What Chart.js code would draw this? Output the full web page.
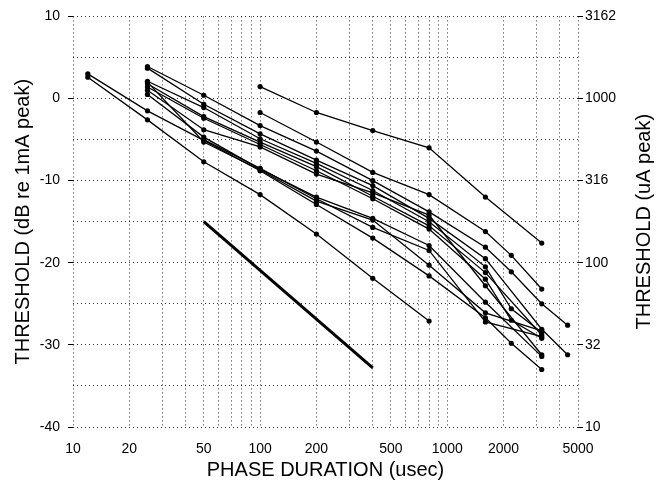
<!DOCTYPE html>
<html>
<head>
<meta charset="utf-8">
<script src="https://cdn.jsdelivr.net/npm/chart.js@4"></script>
<style>
  body { margin: 0; background: #fff; }
  canvas { display: block; }
</style>
</head>
<body>
<canvas id="myChart" width="656" height="485"></canvas>
<script>
// phase durations (usec) used for every subject
const durations = [12, 25, 50, 100, 200, 400, 800, 1600, 2200, 3200, 4400];
const _ = null;

// thresholds in dB re 1mA peak, one array per subject
const subjA = [_, _, _, 1.45, -1.7, -3.9, -6.0, -12.0, _, -17.6, _];
const subjB = [_, _, _, -1.7, -5.3, -9.0, -11.7, -16.2, -19.1, -23.2, _];
const subjC = [_, 3.9, 0.4, -3.3, -6.4, -10.0, -13.8, -18.1, -21.1, -25.0, -27.6];
const subjD = [_, 3.7, -0.7, -4.3, -7.5, -10.6, -14.6, -19.5, _, -28.1, -31.2];
const subjE = [_, 2.1, -1.1, -4.9, -7.9, -11.2, -15.0, -20.5, -25.6, -28.5, _];
const subjF = [_, 1.8, -2.2, -5.3, -8.3, -11.9, -15.5, -21.2, _, -28.8, _];
const subjG = [_, 1.4, -2.4, -5.6, -8.8, -12.2, -15.9, -22.0, -27.0, -29.2, _];
const subjH = [_, 1.0, -3.8, -5.9, -9.2, -11.5, -14.2, -22.8, _, -31.2, _];
const subjI = [_, 0.5, -4.7, -8.6, -12.0, -14.6, -17.9, -24.8, _, -31.4, _];
const subjJ = [3.0, -1.5, -5.1, -8.8, -12.9, -17.0, -21.6, -26.7, -29.8, -33.0, _];
const subjK = [_, 2.0, -5.3, -8.7, -12.5, -14.8, -20.3, -26.1, _, -28.3, _];
const subjL = [2.6, -2.6, -7.7, -11.7, -16.5, -21.9, -27.1, _, _, _, _];
const subjM = [_, _, -5.0, -8.5, -12.2, -15.7, -18.5, -27.2, _, -29.0, _];
const subjects = [subjA, subjB, subjC, subjD, subjE, subjF, subjG, subjH, subjI, subjJ, subjK, subjL, subjM];

// reference slope line (no markers)
const slopeDur = [50, 400];
const slopeDb = [-15, -32.8];

// axis ticks
const xGrid = [10, 20, 30, 40, 50, 60, 70, 80, 90, 100, 200, 300, 400, 500, 600, 700, 800, 900,
               1000, 2000, 3000, 4000, 5000];
const xLabels = [10, 20, 50, 100, 200, 500, 1000, 2000, 5000];
const rightDb = [-40, -30, -20, -10, 0, 10];
const rightLabels = ['10', '32', '100', '316', '1000', '3162'];

const fontFam = "'Liberation Sans', Arial, Helvetica, sans-serif";
const gridCol = 'rgba(0,0,0,0.8)';

const toPoints = (xs, ys) => xs.map((x, i) => ({ x: x, y: ys[i] })).filter(p => p.y !== null);

const datasets = subjects.map(s => ({
  data: toPoints(durations, s),
  borderColor: '#000',
  backgroundColor: '#000',
  borderWidth: 1.3,
  pointRadius: 2.6,
  pointBorderWidth: 0,
  showLine: true,
  yAxisID: 'y'
}));
datasets.push({
  data: toPoints(slopeDur, slopeDb),
  borderColor: '#000',
  borderWidth: 3,
  pointRadius: 0,
  showLine: true,
  yAxisID: 'y'
});

// right-hand title reads bottom to top like the left one
const rightTitle = {
  id: 'rightTitle',
  afterDraw(chart) {
    const { ctx, chartArea } = chart;
    ctx.save();
    ctx.translate(chart.width - 12, (chartArea.top + chartArea.bottom) / 2);
    ctx.rotate(-Math.PI / 2);
    ctx.font = '20px ' + fontFam;
    ctx.fillStyle = '#000';
    ctx.textAlign = 'center';
    ctx.textBaseline = 'middle';
    ctx.fillText('THRESHOLD (uA peak)', 0, 0);
    ctx.restore();
  }
};

const ctx = document.getElementById('myChart');
new Chart(ctx, {
  type: 'scatter',
  data: { datasets: datasets },
  plugins: [rightTitle],
  options: {
    responsive: false,
    animation: false,
    layout: { padding: { top: 8, left: 0, right: 0, bottom: 0 } },
    plugins: { legend: { display: false }, tooltip: { enabled: false } },
    scales: {
      x: {
        type: 'logarithmic',
        min: 10,
        max: 5000,
        afterBuildTicks: (scale) => { scale.ticks = xGrid.map(v => ({ value: v })); },
        afterFit: (scale) => { scale.height = 58; },
        ticks: {
          autoSkip: false,
          maxRotation: 0,
          padding: 14,
          color: '#000',
          font: { family: fontFam, size: 14 },
          callback: (v) => xLabels.includes(v) ? String(v) : ''
        },
        grid: { color: gridCol, lineWidth: 1, drawTicks: false },
        border: { display: false, dash: [1, 3] },
        title: {
          display: true,
          text: 'PHASE DURATION (usec)',
          color: '#000',
          font: { family: fontFam, size: 20 },
          padding: { top: 0, bottom: 3 }
        }
      },
      y: {
        position: 'left',
        min: -40,
        max: 10,
        afterFit: (scale) => { scale.width = 73; },
        ticks: {
          stepSize: 5,
          padding: 8,
          color: '#000',
          font: { family: fontFam, size: 14 },
          callback: (v) => v % 10 === 0 ? String(v) : ''
        },
        grid: {
          color: gridCol,
          lineWidth: 1,
          tickLength: 5,
          tickBorderDash: [],
          tickColor: (c) => c.tick && c.tick.value % 10 === 0 ? '#000' : 'rgba(0,0,0,0)'
        },
        border: { display: false, dash: [1, 3] },
        title: {
          display: true,
          text: 'THRESHOLD (dB re 1mA peak)',
          color: '#000',
          font: { family: fontFam, size: 20 },
          padding: { top: 11, bottom: 0 }
        }
      },
      y2: {
        position: 'right',
        min: -40,
        max: 10,
        afterBuildTicks: (scale) => { scale.ticks = rightDb.map(v => ({ value: v })); },
        afterFit: (scale) => { scale.width = 78; },
        ticks: {
          padding: 2,
          color: '#000',
          font: { family: fontFam, size: 14 },
          callback: (v) => rightLabels[rightDb.indexOf(v)]
        },
        grid: { drawOnChartArea: false, color: '#000', tickLength: 5 },
        border: { display: false },
        title: { display: false }
      }
    }
  }
});
</script>
</body>
</html>
